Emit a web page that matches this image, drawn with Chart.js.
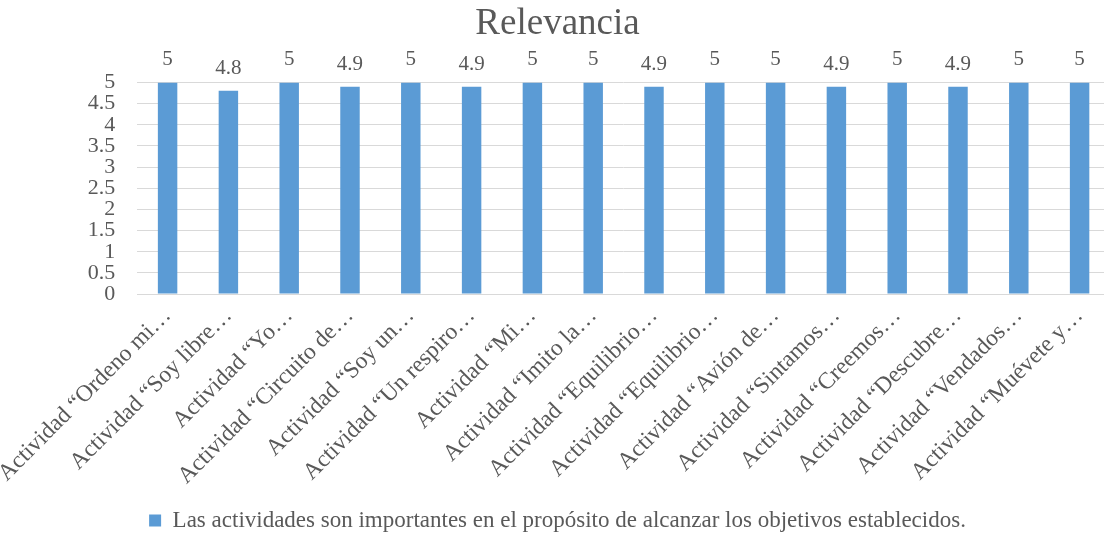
<!DOCTYPE html>
<html>
<head>
<meta charset="utf-8">
<script src="https://cdn.jsdelivr.net/npm/chart.js@4/dist/chart.umd.min.js"></script>
<style>
    body { margin: 0; background: #fff; overflow: hidden; }
    #wrap { width: 1110px; height: 533px; }
</style>
</head>
<body>
<div id="wrap"><canvas id="relevanciaChart"></canvas></div>
<script>
// Chart data
const categories = [
    'Actividad “Ordeno mi…',
    'Actividad “Soy libre…',
    'Actividad “Yo…',
    'Actividad “Circuito de…',
    'Actividad “Soy un…',
    'Actividad “Un respiro…',
    'Actividad “Mi…',
    'Actividad “Imito la…',
    'Actividad “Equilibrio…',
    'Actividad “Equilibrio…',
    'Actividad “Avión de…',
    'Actividad “Sintamos…',
    'Actividad “Creemos…',
    'Actividad “Descubre…',
    'Actividad “Vendados…',
    'Actividad “Muévete y…'
];
const relevanceValues = [5, 4.8, 5, 4.9, 5, 4.9, 5, 5, 4.9, 5, 5, 4.9, 5, 4.9, 5, 5];
const seriesName = 'Las actividades son importantes en el propósito de alcanzar los objetivos establecidos.';
const chartTitle = 'Relevancia';

const textColor = '#595959';
const fontFamily = '"Liberation Serif", "Times New Roman", serif';
Chart.defaults.font.family = fontFamily;

// Draws the value above each bar
const valueLabels = {
    id: 'valueLabels',
    afterDatasetsDraw(chart) {
        const ctx = chart.ctx;
        ctx.save();
        ctx.fillStyle = textColor;
        ctx.font = '21px ' + fontFamily;
        ctx.textAlign = 'center';
        ctx.textBaseline = 'alphabetic';
        chart.getDatasetMeta(0).data.forEach((bar, i) => {
            ctx.fillText(String(relevanceValues[i]), bar.x, bar.y - 17);
        });
        ctx.restore();
    }
};

new Chart(document.getElementById('relevanciaChart'), {
    type: 'bar',
    data: {
        labels: categories,
        datasets: [{
            label: seriesName,
            data: relevanceValues,
            backgroundColor: '#5b9bd5',
            categoryPercentage: 1,
            barPercentage: 0.32
        }]
    },
    options: {
        responsive: true,
        maintainAspectRatio: false,
        animation: false,
        layout: { padding: { left: 5, right: 0, top: 2, bottom: -9 } },
        plugins: {
            title: {
                display: true,
                text: chartTitle,
                color: textColor,
                font: { family: fontFamily, size: 37, weight: 'normal' },
                padding: { top: 0, bottom: 36 }
            },
            legend: {
                position: 'bottom',
                labels: {
                    color: textColor,
                    font: { family: fontFamily, size: 23 },
                    boxWidth: 12,
                    boxHeight: 12,
                    padding: 19
                }
            },
            tooltip: { enabled: false }
        },
        scales: {
            x: {
                grid: { display: false },
                border: { color: '#d9d9d9' },
                ticks: {
                    color: textColor,
                    font: { family: fontFamily, size: 23.5 },
                    maxRotation: 45,
                    minRotation: 45,
                    autoSkip: false,
                    padding: 0
                }
            },
            y: {
                min: 0,
                max: 5,
                grid: { color: '#d9d9d9', drawTicks: false },
                border: { display: false },
                ticks: {
                    stepSize: 0.5,
                    autoSkip: false,
                    color: textColor,
                    font: { family: fontFamily, size: 22 },
                    padding: 22,
                    callback: value => String(value)
                }
            }
        }
    },
    plugins: [valueLabels]
});
</script>
</body>
</html>
